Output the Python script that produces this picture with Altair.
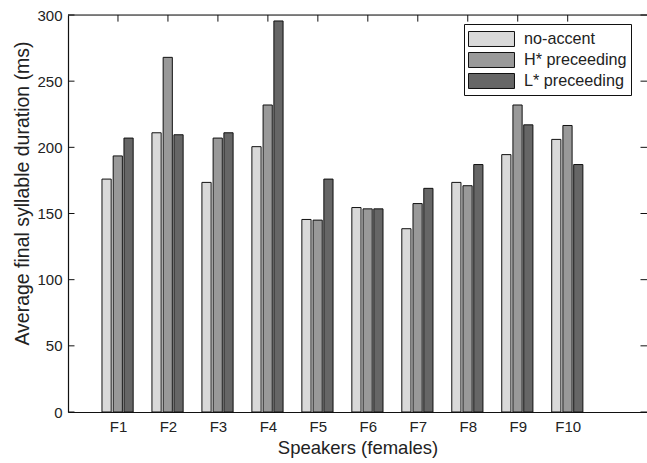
import json
import altair as alt
import pandas as pd

# ---- data ----
speakers = ["F1", "F2", "F3", "F4", "F5", "F6", "F7", "F8", "F9", "F10"]
series_names = ["no-accent", "H* preceeding", "L* preceeding"]
no_accent = [176, 211, 173.5, 200.5, 145.5, 154.5, 138.5, 173.5, 194.5, 206]
h_preceeding = [193.5, 268, 207, 232, 145, 153.5, 157.5, 171, 232, 216.5]
l_preceeding = [207, 209.5, 211, 295.5, 176, 153.5, 169, 187, 217, 187]
y_ticks = [0, 50, 100, 150, 200, 250, 300]
colors = ["#d9d9d9", "#999999", "#666666"]

# ---- layout constants ----
W, H = 579, 397
XMAX = 11.587
OFFSETS = [-0.228, -0.004, 0.212]
HALF = 0.092
FONT = "Liberation Sans"
TXT = "#222222"

rows = []
for si, (name, vals) in enumerate(zip(series_names, [no_accent, h_preceeding, l_preceeding])):
    for i, (sp, v) in enumerate(zip(speakers, vals)):
        c = i + 1 + OFFSETS[si]
        rows.append({"speaker": sp, "series": name, "value": v, "x0": c - HALF, "x1": c + HALF})
bars_df = pd.DataFrame(rows)

xscale = alt.Scale(domain=[0, XMAX], nice=False, zero=False)
yscale = alt.Scale(domain=[0, 300], nice=False, zero=False)

label_expr = f"{json.dumps(speakers)}[datum.value - 1]"

bars = alt.Chart(bars_df).mark_bar(stroke="#111111", strokeWidth=1, opacity=1).encode(
    x=alt.X("x0:Q", scale=xscale,
            axis=alt.Axis(values=list(range(1, len(speakers) + 1)), labelExpr=label_expr,
                          title="Speakers (females)", grid=False, tickSize=0, labelPadding=7,
                          labelFontSize=15, titleFontSize=18.5, titlePadding=4,
                          domainColor="#111111", domainWidth=1.2, labelColor=TXT, titleColor=TXT,
                          labelFont=FONT, titleFont=FONT, titleFontWeight="normal")),
    x2="x1:Q",
    y=alt.Y("value:Q", scale=yscale,
            axis=alt.Axis(values=y_ticks, title="Average final syllable duration (ms)", grid=False,
                          tickSize=0, labelPadding=6, labelFontSize=15, titleFontSize=19.5,
                          domainColor="#111111", domainWidth=1.2, labelColor=TXT, titleColor=TXT,
                          labelFont=FONT, titleFont=FONT, titleFontWeight="normal",
                          titleAngle=-90, titleAlign="center", titleBaseline="middle",
                          titleX=-46, titleY=178)),
    y2=alt.datum(0),
    color=alt.Color("series:N", scale=alt.Scale(domain=series_names, range=colors),
                    sort=series_names,
                    legend=alt.Legend(title=None, orient="none", legendX=396, legendY=9,
                                      strokeColor="#111111", fillColor="white", padding=4,
                                      symbolType="M-1,-0.714L3.38,-0.714L3.38,0.714L-1,0.714Z",
                                      symbolSize=441, symbolStrokeColor="#111111",
                                      symbolStrokeWidth=1, symbolOpacity=1,
                                      labelFontSize=16.2, labelFont=FONT, labelColor=TXT,
                                      labelOffset=34, rowPadding=0, labelLimit=300)),
)

# inward ticks on left/right (y ticks) and top (x ticks)
yt_df = pd.DataFrame({"y": y_ticks})
left_ticks = alt.Chart(yt_df).mark_rule(color="#111111", strokeWidth=1).encode(
    x=alt.datum(0, scale=xscale), x2=alt.datum(0.13), y=alt.Y("y:Q", scale=yscale))
right_ticks = alt.Chart(yt_df).mark_rule(color="#111111", strokeWidth=1).encode(
    x=alt.datum(XMAX - 0.13, scale=xscale), x2=alt.datum(XMAX), y=alt.Y("y:Q", scale=yscale))
xt_df = pd.DataFrame({"x": list(range(1, len(speakers) + 1))})
top_ticks = alt.Chart(xt_df).mark_rule(color="#111111", strokeWidth=1).encode(
    x=alt.X("x:Q", scale=xscale), y=alt.datum(300, scale=yscale), y2=alt.datum(295))
top_spine = alt.Chart(pd.DataFrame({"y": [300]})).mark_rule(color="#111111", strokeWidth=1.2).encode(
    x=alt.datum(0, scale=xscale), x2=alt.datum(XMAX), y=alt.Y("y:Q", scale=yscale))

chart = alt.layer(bars, left_ticks, right_ticks, top_ticks, top_spine).properties(
    width=W, height=H,
    autosize=alt.AutoSizeParams(type="none"),
    padding={"left": 68, "top": 15, "right": 0, "bottom": 51},
).configure_view(stroke=None).configure(background="white")

chart.save("out.html", embed_options={"renderer": "svg", "actions": False})
